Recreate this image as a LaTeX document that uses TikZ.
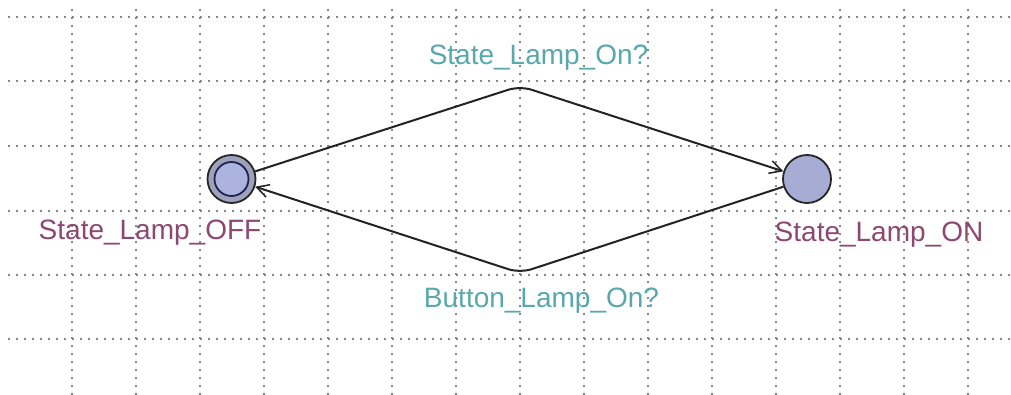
\documentclass[tikz,border=0pt]{standalone}
\usepackage{fontspec}
\setmainfont{Liberation Sans}
\usetikzlibrary{arrows.meta}

\definecolor{gridgray}{RGB}{135,135,135}
\definecolor{syncteal}{RGB}{88,168,172}
\definecolor{locname}{RGB}{140,72,112}
\definecolor{locfill}{RGB}{166,172,212}
\definecolor{ringfill}{RGB}{158,162,188}
\definecolor{innerfill}{RGB}{172,180,222}
\definecolor{innerline}{RGB}{30,36,80}
\definecolor{edgeline}{RGB}{35,35,35}

\begin{document}
\begin{tikzpicture}[x=1pt,y=-1pt,
  gridline/.style={gridgray, line width=2pt, dash pattern=on 2pt off 6pt},
  location/.style={circle, draw=black!85, line width=1.8pt, fill=locfill,
                   minimum size=48pt, inner sep=0pt},
  initring/.style={location, fill=ringfill},
  initcore/.style={circle, draw=innerline, line width=1.8pt, fill=innerfill,
                   minimum size=34pt, inner sep=0pt},
  transition/.style={edgeline, line width=2pt, rounded corners=12pt,
                     -{Straight Barb[length=12pt,width=13pt,line width=1.5pt]}},
  synclabel/.style={syncteal, inner sep=0pt, anchor=base,
                    font=\fontsize{28}{30}\selectfont},
  namelabel/.style={locname, inner sep=0pt, anchor=base,
                    font=\fontsize{28}{30}\selectfont}
]
\useasboundingbox (0,0) rectangle (1011,395);
\fill[white] (0,0) rectangle (1011,395);

% background grid
\foreach \gx in {72,136,200,264,328,392,456,520,584,648,712,776,840,904,968}
  \draw[gridline] (\gx,9) -- (\gx,395);
\foreach \gy in {17,81,146,211,275,339}
  \draw[gridline] (8,\gy) -- (1011,\gy);

% locations
\node[initring] (off) at (231.5,179) {};
\node[initcore] (offcore) at (off.center) {};
\node[location] (on) at (807,179) {};

% nails of the two transitions
\coordinate (nailtop) at (520,86);
\coordinate (nailbot) at (520,273);

% transitions
\draw[transition] (off) -- (nailtop) -- (on);
\draw[transition] (on) -- (nailbot) -- (off);

% labels
\node[namelabel] (offname) at (150,240) {State\_Lamp\_OFF};
\node[namelabel] (onname) at (879,242) {State\_Lamp\_ON};
\node[synclabel] (synctop) at (538.5,65) {State\_Lamp\_On?};
\node[synclabel] (syncbot) at (541.5,307) {Button\_Lamp\_On?};
\end{tikzpicture}
\end{document}
